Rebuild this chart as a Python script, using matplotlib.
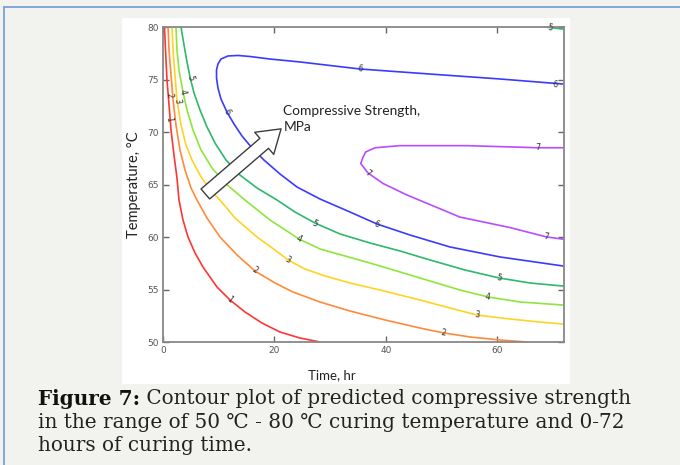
import numpy as np
import matplotlib
matplotlib.use("Agg")
import matplotlib.pyplot as plt
from matplotlib.patches import Rectangle, FancyArrowPatch
from matplotlib.lines import Line2D

# --- contour lines: (time hr, temperature C) --------------------------------------------------- #
C1_TIME = [0.27, 0.45, 0.72, 1.08, 1.44, 1.97, 2.51, 2.87, 3.59, 4.49, 5.75, 7.18, 9.69,
           12.03, 14.72, 17.77, 21.0, 24.6, 28.19]
C1_TEMP = [80.0, 77.81, 74.95, 72.57, 70.19, 67.81, 65.62, 63.52, 61.62, 60.0, 58.48, 57.14,
           55.24, 54.0, 52.86, 51.81, 50.95, 50.38, 50.0]

C2_TIME = [0.90, 1.08, 1.44, 1.80, 2.33, 3.05, 3.95, 5.03, 6.10, 7.90, 10.23, 13.29, 16.52,
           20.11, 23.34, 28.19, 33.57, 39.86, 46.14, 50.45, 55.12, 60.50, 65.35]
C2_TEMP = [80.0, 77.81, 75.43, 73.05, 70.67, 68.29, 66.38, 64.67, 63.52, 61.81, 60.0, 58.29,
           56.76, 55.62, 54.76, 53.81, 52.95, 52.10, 51.33, 50.86, 50.48, 50.19, 50.0]

C3_TIME = [1.62, 1.80, 2.15, 2.51, 3.23, 4.13, 5.21, 6.64, 8.44, 10.23, 12.93, 16.88, 20.11,
           22.44, 25.49, 29.08, 33.57, 38.96, 46.14, 51.53, 56.37, 62.30, 67.68, 71.81]
C3_TEMP = [80.0, 77.81, 75.43, 73.05, 70.67, 68.76, 67.33, 65.90, 64.48, 63.52, 61.81, 60.0,
           58.76, 57.81, 56.95, 56.29, 55.62, 54.95, 54.0, 53.24, 52.57, 52.19, 51.90, 51.71]

C4_TIME = [2.33, 2.51, 2.87, 3.59, 4.31, 5.39, 6.82, 8.80, 11.13, 14.72, 19.21, 24.42, 28.19,
           32.68, 37.16, 42.55, 47.94, 53.32, 58.35, 64.09, 71.81]
C4_TEMP = [80.0, 77.81, 75.90, 73.81, 72.10, 70.19, 68.29, 66.57, 65.14, 63.52, 61.62, 59.81,
           58.86, 58.19, 57.52, 56.67, 55.81, 54.95, 54.29, 53.81, 53.52]

C5_TIME = [3.23, 3.77, 4.31, 4.85, 5.57, 6.64, 7.90, 9.34, 11.31, 13.82, 16.88, 20.47, 23.70,
           27.29, 31.78, 37.16, 42.55, 47.94, 54.22, 60.32, 65.89, 71.81]
C5_TEMP = [80.0, 78.29, 76.67, 75.24, 73.71, 72.10, 70.48, 68.95, 67.33, 65.90, 64.67, 63.52,
           62.38, 61.33, 60.29, 59.43, 58.67, 57.81, 56.86, 56.10, 55.62, 55.33]
C5B_TIME = [68.6, 70.3, 71.8]          # short piece in the top-right corner
C5B_TEMP = [80.0, 79.9, 79.8]

C6_TIME = [71.81, 60.50, 47.94, 35.37, 24.60, 19.21, 15.62, 13.46, 11.67, 10.41, 9.87, 9.61,
           9.61, 9.87, 10.41, 11.49, 12.75, 14.18, 15.98, 18.13, 21.01, 24.06, 28.19, 33.57,
           38.42, 44.34, 51.53, 60.50, 71.81]
C6_TEMP = [74.57, 75.05, 75.52, 76.0, 76.67, 76.95, 77.19, 77.29, 77.24, 76.95, 76.48, 75.90,
           75.14, 74.19, 73.14, 71.90, 70.76, 69.62, 68.48, 67.33, 66.0, 64.76, 63.62, 62.38,
           61.24, 60.19, 59.05, 58.10, 57.24]

C7_TIME = [71.8, 67.3, 54.6, 42.5, 38.1, 36.4, 35.9, 35.5, 36.8, 39.5, 43.8, 49.7, 53.3,
           62.3, 68.9, 71.8]
C7_TEMP = [68.5, 68.5, 68.7, 68.7, 68.5, 68.1, 67.6, 67.0, 66.1, 65.1, 64.0, 62.7, 61.9,
           60.9, 60.0, 59.8]

# inline labels: (level, time, temp)
LABEL_LEVEL = [1, 1, 2, 2, 2, 3, 3, 3, 4, 4, 4, 5, 5, 5, 5, 6, 6, 6, 6, 7, 7, 7]
LABEL_TIME = [1.08, 12.0, 1.08, 16.5, 50.4, 2.5, 22.4, 56.4, 3.6, 24.4, 58.3,
              4.85, 27.3, 60.3, 69.5, 11.5, 35.4, 70.4, 38.4, 36.8, 67.3, 68.9]
LABEL_TEMP = [71.2, 54.0, 73.5, 56.8, 50.9, 72.9, 57.8, 52.6, 73.8, 59.8, 54.3,
              75.2, 61.3, 56.1, 79.9, 71.9, 76.0, 74.5, 61.2, 66.1, 68.5, 60.0]

X_TICKS = [0, 20, 40, 60]
Y_TICKS = [50, 55, 60, 65, 70, 75, 80]

CAPTION_BOLD = "Figure 7:"
CAPTION_LINES = [" Contour plot of predicted compressive strength",
                 "in the range of 50 \u2103 - 80 \u2103 curing temperature and 0-72",
                 "hours of curing time."]

COLORS = {1: "#ff3535", 2: "#ff8a3c", 3: "#ffd324", 4: "#8ee63c", 5: "#2db86a",
          6: "#3b3bff", 7: "#b84cff"}

curves = [(1, C1_TIME, C1_TEMP), (2, C2_TIME, C2_TEMP), (3, C3_TIME, C3_TEMP),
          (4, C4_TIME, C4_TEMP), (5, C5_TIME, C5_TEMP), (5, C5B_TIME, C5B_TEMP),
          (6, C6_TIME, C6_TEMP), (7, C7_TIME, C7_TEMP)]

W, H = 680, 465
fig = plt.figure(figsize=(W / 100, H / 100), dpi=100, facecolor="#f2f2ee")

# page frame: blue rule top/left, white figure panel
fig.add_artist(Line2D([4 / W, 1], [1 - 7 / H, 1 - 7 / H], color="#79a3da", lw=1.3))
fig.add_artist(Line2D([4 / W, 4 / W], [0, 1 - 7 / H], color="#79a3da", lw=1.3))
fig.add_artist(Rectangle((122 / W, 1 - 384 / H), 448 / W, 366 / H, facecolor="white",
                         edgecolor="none", transform=fig.transFigure, zorder=0))

ax = fig.add_axes([163 / W, 1 - 342 / H, 401 / W, 315 / H])
ax.set_xlim(0, 72)
ax.set_ylim(50, 80)

for lev, t, T in curves:
    ax.plot(t, T, color=COLORS[lev], lw=1.2, solid_joinstyle="round")

# inline level labels, rotated along the local line direction
fig.canvas.draw()
for lev, t0, T0 in zip(LABEL_LEVEL, LABEL_TIME, LABEL_TEMP):
    best = None
    for l, t, T in curves:
        if l != lev:
            continue
        pts = ax.transData.transform(np.column_stack([t, T]))
        p0 = ax.transData.transform((t0, T0))
        d = np.hypot(*(pts - p0).T)
        i = int(np.argmin(d))
        if best is None or d[i] < best[0]:
            j = i + 1 if i < len(pts) - 1 else i - 1
            best = (d[i], pts[i], pts[j])
    _, a, b = best
    ang = np.degrees(np.arctan2(b[1] - a[1], b[0] - a[0]))
    if ang > 90:
        ang -= 180
    if ang < -90:
        ang += 180
    ax.text(t0, T0, str(lev), fontsize=5.8, color="#333333", rotation=ang,
            rotation_mode="anchor", ha="center", va="center", family="DejaVu Sans")

# annotation: hollow arrow + label
arrow = FancyArrowPatch((7.6, 64.1), (21.2, 70.3),
                        arrowstyle="simple,head_length=16,head_width=21,tail_width=9.5",
                        mutation_scale=1, facecolor="white", edgecolor="#3c3c3c", lw=1.0,
                        shrinkA=0, shrinkB=0, zorder=5)
ax.add_patch(arrow)
ax.text(21.6, 71.25, "Compressive Strength,\nMPa", fontsize=9.9, family="Lato",
        color="#222222", ha="left", va="center", linespacing=1.4)

ax.set_xticks(X_TICKS)
ax.set_yticks(Y_TICKS)
ax.tick_params(direction="in", length=4, width=1, color="#666666", top=True, right=True,
               labelsize=6.5, labelcolor="#555555", pad=3)
for s in ax.spines.values():
    s.set_color("#888888")
    s.set_linewidth(1.3)
ax.set_xlabel("Time, hr", fontsize=9.5, family="Lato", color="#222222")
ax.xaxis.set_label_coords(0.42, -0.085)
ax.set_ylabel("Temperature, \u00b0C", fontsize=10.5, family="Lato", color="#222222")
ax.yaxis.set_label_coords(-0.055, 0.5)

# caption: bold lead-in, then the rest of line one right after it
cap_font = dict(fontsize=14.4, family=["DejaVu Serif", "DejaVu Sans"], va="center", ha="left")
cap_x = 38 / W
lead = fig.text(cap_x, 1 - 399 / H, CAPTION_BOLD, weight="bold", color="#111111", **cap_font)
fig.canvas.draw()
bb = lead.get_window_extent(fig.canvas.get_renderer())
fig.text(bb.x1 / W, 1 - 399 / H, CAPTION_LINES[0], color="#222222", **cap_font)
fig.text(cap_x, 1 - 422 / H, CAPTION_LINES[1], color="#222222", **cap_font)
fig.text(cap_x, 1 - 445 / H, CAPTION_LINES[2], color="#222222", **cap_font)

fig.savefig("out.png", dpi=100, facecolor=fig.get_facecolor())
